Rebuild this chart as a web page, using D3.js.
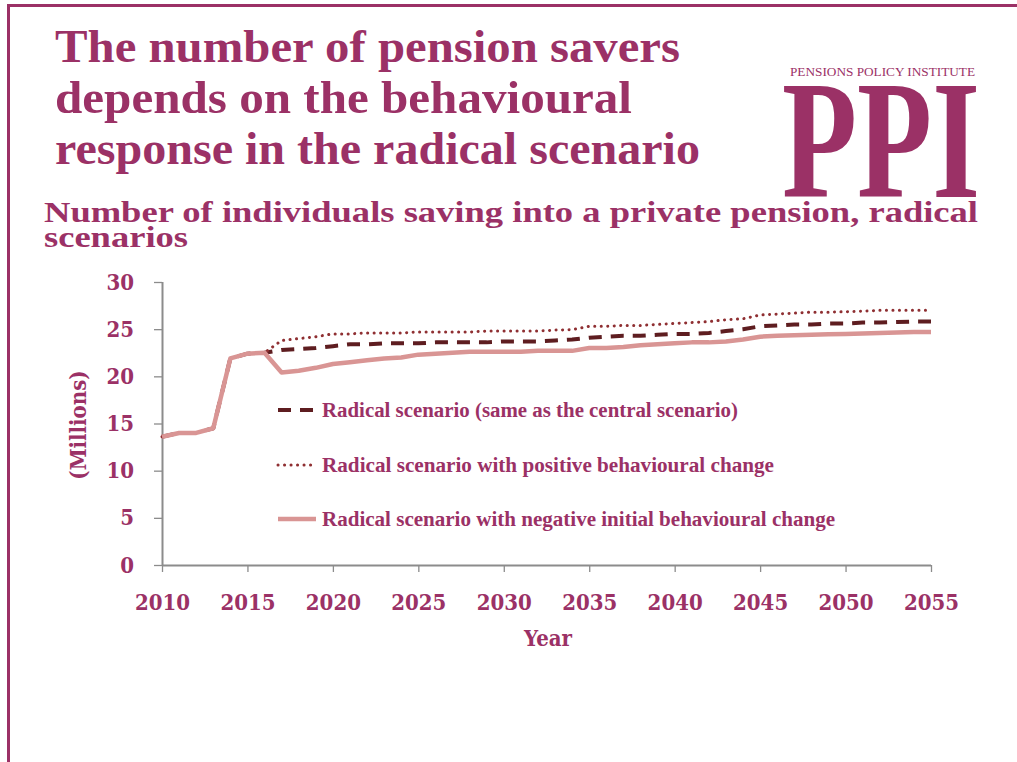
<!DOCTYPE html>
<html>
<head>
<meta charset="utf-8">
<script src="https://cdn.jsdelivr.net/npm/d3@7"></script>
<style>
  html, body { margin: 0; padding: 0; background: #fff; }
  svg { display: block; }
</style>
</head>
<body>
<svg id="chart" width="1017" height="762"></svg>
<script>
// Years projected
const years = d3.range(2010, 2056);

// Millions of individuals saving into a private pension
const radicalCentral = [
  13.6, 14.0, 14.0, 14.5, 21.9, 22.4, 22.5, 22.8, 22.9, 23.0,
  23.2, 23.4, 23.4, 23.5, 23.5, 23.5, 23.6, 23.6, 23.6, 23.6,
  23.7, 23.7, 23.7, 23.8, 23.9, 24.1, 24.2, 24.3, 24.3, 24.4,
  24.5, 24.5, 24.6, 24.8, 25.0, 25.3, 25.4, 25.5, 25.5, 25.6,
  25.6, 25.7, 25.7, 25.75, 25.8, 25.8
];
const radicalPositive = [
  13.6, 14.0, 14.0, 14.5, 21.9, 22.4, 22.5, 23.8, 24.0, 24.2,
  24.5, 24.5, 24.6, 24.6, 24.6, 24.7, 24.7, 24.7, 24.7, 24.8,
  24.8, 24.8, 24.8, 24.9, 24.95, 25.3, 25.3, 25.4, 25.4, 25.5,
  25.6, 25.7, 25.8, 26.0, 26.1, 26.5, 26.6, 26.7, 26.8, 26.8,
  26.85, 26.9, 27.0, 27.0, 27.0, 27.0
];
const radicalNegative = [
  13.6, 14.0, 14.0, 14.5, 21.9, 22.4, 22.5, 20.4, 20.6, 20.9,
  21.3, 21.5, 21.7, 21.9, 22.0, 22.3, 22.4, 22.5, 22.6, 22.6,
  22.6, 22.6, 22.7, 22.7, 22.7, 23.0, 23.0, 23.1, 23.3, 23.4,
  23.5, 23.6, 23.6, 23.7, 23.9, 24.2, 24.3, 24.35, 24.4, 24.45,
  24.5, 24.55, 24.6, 24.65, 24.7, 24.7
];

const yTicks = [0, 5, 10, 15, 20, 25, 30];
const xTicks = [2010, 2015, 2020, 2025, 2030, 2035, 2040, 2045, 2050, 2055];

const titleLines = [
  "The number of pension savers",
  "depends on the behavioural",
  "response in the radical scenario"
];
const subtitleLines = [
  "Number of individuals saving into a private pension, radical",
  "scenarios"
];
const legendLabels = [
  "Radical scenario (same as the central scenario)",
  "Radical scenario with positive behavioural change",
  "Radical scenario with negative initial behavioural change"
];

const brand = "#9b3166";
const serif = "'Liberation Serif', 'Times New Roman', serif";
const numFont = "'DejaVu Serif Condensed', 'DejaVu Serif', serif";

const svg = d3.select("#chart");

// Page frame
svg.append("line").attr("x1", 8).attr("x2", 1017).attr("y1", 5.5).attr("y2", 5.5)
  .attr("stroke", brand).attr("stroke-width", 3);
svg.append("line").attr("x1", 8.5).attr("x2", 8.5).attr("y1", 4).attr("y2", 762)
  .attr("stroke", brand).attr("stroke-width", 3);

// Headline
const titleSpec = [
  { y: 62, w: 625 },
  { y: 113, w: 577 },
  { y: 164, w: 645 }
];
svg.selectAll("text.title").data(titleLines).join("text")
  .attr("class", "title")
  .attr("x", 55)
  .attr("y", (d, i) => titleSpec[i].y)
  .attr("textLength", (d, i) => titleSpec[i].w)
  .attr("lengthAdjust", "spacingAndGlyphs")
  .attr("font-family", serif)
  .attr("font-weight", "bold")
  .attr("font-size", 47)
  .attr("fill", brand)
  .text(d => d);

// Logo
svg.append("text")
  .attr("x", 790).attr("y", 76)
  .attr("textLength", 185).attr("lengthAdjust", "spacingAndGlyphs")
  .attr("font-family", serif).attr("font-size", 12).attr("fill", brand)
  .text("PENSIONS POLICY INSTITUTE");
svg.append("text")
  .attr("x", 782).attr("y", 197)
  .attr("textLength", 198).attr("lengthAdjust", "spacingAndGlyphs")
  .attr("font-family", serif).attr("font-weight", "bold").attr("font-size", 170)
  .attr("fill", brand)
  .text("PPI");

// Chart subtitle
const subSpec = [
  { y: 222, w: 934 },
  { y: 247, w: 144 }
];
svg.selectAll("text.sub").data(subtitleLines).join("text")
  .attr("class", "sub")
  .attr("x", 44)
  .attr("y", (d, i) => subSpec[i].y)
  .attr("textLength", (d, i) => subSpec[i].w)
  .attr("lengthAdjust", "spacingAndGlyphs")
  .attr("font-family", serif)
  .attr("font-weight", "bold")
  .attr("font-size", 30)
  .attr("fill", brand)
  .text(d => d);

// Scales
const x = d3.scaleLinear().domain([2010, 2055]).range([162, 931]);
const y = d3.scaleLinear().domain([0, 30]).range([565, 282]);

// Axes
const axisColor = "#8c8c8c";
const yAxis = svg.append("g")
  .attr("transform", `translate(${x(2010)},0)`)
  .call(d3.axisLeft(y).tickValues(yTicks).tickSize(8).tickPadding(20).tickFormat(d3.format("d")));
const xAxis = svg.append("g")
  .attr("transform", `translate(0,${y(0)})`)
  .call(d3.axisBottom(x).tickValues(xTicks).tickSize(7).tickPadding(22).tickFormat(d3.format("d")));

[yAxis, xAxis].forEach(g => {
  g.select(".domain").attr("stroke", axisColor).attr("stroke-width", 2);
  g.selectAll(".tick line").attr("stroke", axisColor).attr("stroke-width", 1.3);
  g.selectAll(".tick text")
    .attr("fill", brand)
    .attr("font-family", numFont)
    .attr("font-weight", "bold")
    .attr("font-size", 22);
});
// Axis lines run only across the plotting area
xAxis.select(".domain").attr("d", `M${x(2010)},0.5H${x(2055)}`);
yAxis.select(".domain").attr("d", `M0.5,${y(30)}V${y(0)}`);

// Axis titles
svg.append("text")
  .attr("transform", `translate(86,425) rotate(-90)`)
  .attr("text-anchor", "middle")
  .attr("font-family", numFont).attr("font-weight", "bold").attr("font-size", 22)
  .attr("fill", brand)
  .text("(Millions)");
svg.append("text")
  .attr("x", 548).attr("y", 646)
  .attr("text-anchor", "middle")
  .attr("font-family", numFont).attr("font-weight", "bold").attr("font-size", 22)
  .attr("fill", brand)
  .text("Year");

// Series
const series = [
  { name: legendLabels[0], values: radicalCentral, color: "#5e1d20", width: 4, dash: "13,9", cap: "butt" },
  { name: legendLabels[1], values: radicalPositive, color: "#8f2f32", width: 3, dash: "0.1,6.4", cap: "round" },
  { name: legendLabels[2], values: radicalNegative, color: "#d99594", width: 4.5, dash: null, cap: "butt" }
];

const line = d3.line()
  .x((d, i) => x(years[i]))
  .y(d => y(d));

svg.append("g").selectAll("path").data(series).join("path")
  .attr("d", s => line(s.values))
  .attr("fill", "none")
  .attr("stroke", s => s.color)
  .attr("stroke-width", s => s.width)
  .attr("stroke-dasharray", s => s.dash)
  .attr("stroke-linecap", s => s.cap)
  .attr("stroke-linejoin", "round");

// Legend
const legendY = [410, 465, 519];
const legendW = [416, 452, 513];
const legend = svg.append("g").selectAll("g").data(series).join("g")
  .attr("transform", (d, i) => `translate(278,${legendY[i]})`);
legend.append("line")
  .attr("x1", 0).attr("x2", 38).attr("y1", 0).attr("y2", 0)
  .attr("stroke", s => s.color)
  .attr("stroke-width", s => s.width)
  .attr("stroke-dasharray", s => s.dash)
  .attr("stroke-linecap", s => s.cap);
legend.append("text")
  .attr("x", 44).attr("y", 6.5)
  .attr("textLength", (d, i) => legendW[i])
  .attr("lengthAdjust", "spacingAndGlyphs")
  .attr("font-family", serif).attr("font-weight", "bold").attr("font-size", 20)
  .attr("fill", brand)
  .text(s => s.name);
</script>
</body>
</html>
